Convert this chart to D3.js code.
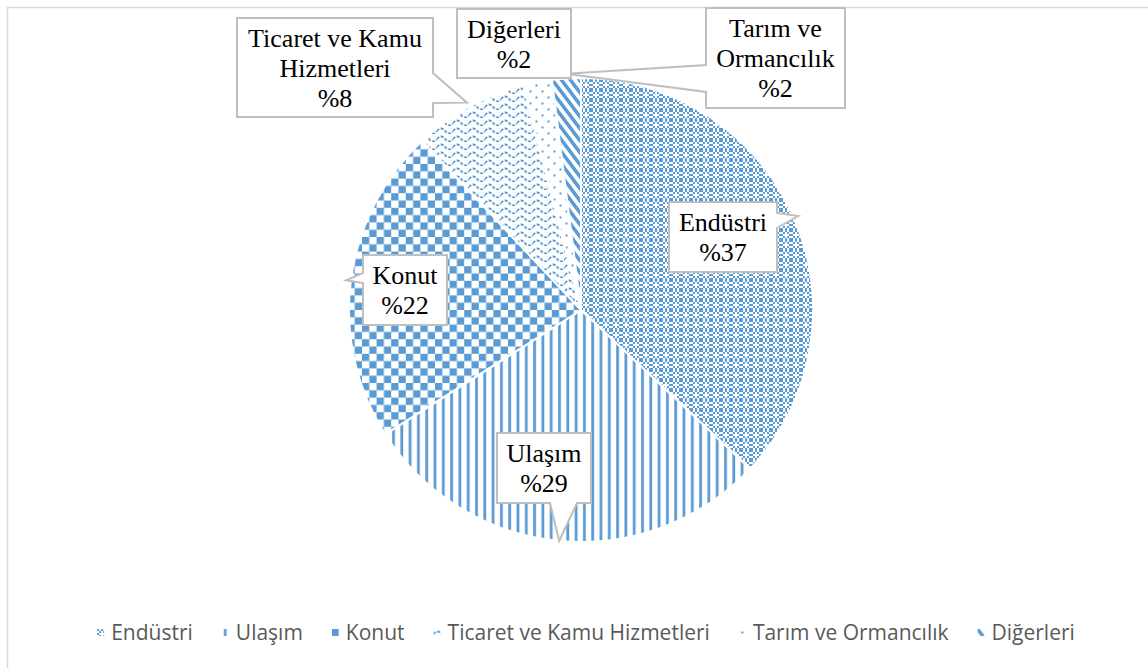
<!DOCTYPE html>
<html>
<head>
<meta charset="utf-8">
<script src="https://cdn.jsdelivr.net/npm/d3@7"></script>
<style>
  body { margin: 0; background: #fff; }
  .callout text { font-family: "Liberation Serif", "Times New Roman", serif; font-size: 26px; fill: #000; }
  .legend text { font-family: "Open Sans", sans-serif; font-size: 21px; fill: #595959; }
</style>
</head>
<body>
<div id="chart"></div>
<script>
// chart data
var categories = ["Endüstri", "Ulaşım", "Konut", "Ticaret ve Kamu Hizmetleri", "Tarım ve Ormancılık", "Diğerleri"];
var shares = [37, 29, 22, 8, 2, 2];
var labelLines = [["Endüstri"], ["Ulaşım"], ["Konut"], ["Ticaret ve Kamu", "Hizmetleri"], ["Tarım ve", "Ormancılık"], ["Diğerleri"]];

var width = 1148, height = 668;
var blue = "#5b9bd5";

var svg = d3.select("#chart").append("svg")
  .attr("width", width)
  .attr("height", height);

// outer frame of the chart area
svg.append("rect")
  .attr("x", 7.5).attr("y", 7.5)
  .attr("width", width + 20).attr("height", height + 20)
  .attr("fill", "none")
  .attr("stroke", "#d9d9d9")
  .attr("stroke-width", 1.5);

// fill patterns (one per slice)
var defs = svg.append("defs");

var chk2 = defs.append("pattern").attr("id", "chk2")
  .attr("patternUnits", "userSpaceOnUse").attr("width", 4).attr("height", 4);
chk2.append("rect").attr("width", 4).attr("height", 4).attr("fill", "#fff");
chk2.append("rect").attr("width", 2).attr("height", 2).attr("fill", blue);
chk2.append("rect").attr("x", 2).attr("y", 2).attr("width", 2).attr("height", 2).attr("fill", blue);

var p0 = defs.append("pattern").attr("id", "pat0")
  .attr("patternUnits", "userSpaceOnUse").attr("width", 10).attr("height", 10);
p0.append("rect").attr("width", 10).attr("height", 10).attr("fill", "url(#chk2)");
p0.append("rect").attr("x", 3).attr("y", 4).attr("width", 4).attr("height", 2).attr("fill", "#fff");
p0.append("rect").attr("x", 4).attr("y", 3).attr("width", 2).attr("height", 4).attr("fill", "#fff");

var p1 = defs.append("pattern").attr("id", "pat1")
  .attr("patternUnits", "userSpaceOnUse").attr("width", 8.3).attr("height", 8);
p1.append("rect").attr("width", 8.3).attr("height", 8).attr("fill", "#fff");
p1.append("rect").attr("x", 2).attr("width", 2.8).attr("height", 8).attr("fill", blue);

var p2 = defs.append("pattern").attr("id", "pat2")
  .attr("patternUnits", "userSpaceOnUse").attr("width", 14.6).attr("height", 14.6);
p2.append("rect").attr("width", 14.6).attr("height", 14.6).attr("fill", "#fff");
p2.append("rect").attr("width", 7.3).attr("height", 7.3).attr("fill", blue);
p2.append("rect").attr("x", 7.3).attr("y", 7.3).attr("width", 7.3).attr("height", 7.3).attr("fill", blue);

var p3 = defs.append("pattern").attr("id", "pat3")
  .attr("patternUnits", "userSpaceOnUse").attr("width", 16).attr("height", 8);
p3.append("rect").attr("width", 16).attr("height", 8).attr("fill", "#fff");
p3.append("path").attr("d", "M0,5 Q4,0 8,5 T16,5")
  .attr("fill", "none").attr("stroke", blue).attr("stroke-width", 1.8)
  .attr("stroke-dasharray", "3,1.5");

var p4 = defs.append("pattern").attr("id", "pat4")
  .attr("patternUnits", "userSpaceOnUse").attr("width", 12).attr("height", 12);
p4.append("rect").attr("width", 12).attr("height", 12).attr("fill", "#fff");
p4.append("rect").attr("x", 2.5).attr("y", 2.5).attr("width", 2).attr("height", 2).attr("fill", blue);
p4.append("rect").attr("x", 8.5).attr("y", 8.5).attr("width", 2).attr("height", 2).attr("fill", blue);

var p5 = defs.append("pattern").attr("id", "pat5")
  .attr("patternUnits", "userSpaceOnUse").attr("width", 9).attr("height", 12);
p5.append("rect").attr("width", 9).attr("height", 12).attr("fill", "#fff");
p5.append("path").attr("d", "M-2.25,-3 L11.25,15 M-2.25,9 L2.25,15 M6.75,-3 L11.25,3")
  .attr("stroke", blue).attr("stroke-width", 3.5);

// pie
var cx = 581, cy = 310, radius = 232;

var pie = d3.pie().sort(null).value(d => d);
var arcs = pie(shares);
var arc = d3.arc().innerRadius(0).outerRadius(radius);

var pieGroup = svg.append("g")
  .attr("transform", `translate(${cx}, ${cy})`);

pieGroup.selectAll("path")
  .data(arcs)
  .enter()
  .append("path")
  .attr("d", arc)
  .attr("fill", (d, i) => `url(#pat${i})`)
  .attr("stroke", "#fff")
  .attr("stroke-width", 2);

// callout boxes: box layout, side where the tail leaves the box, and tip angle
var callouts = [
  { box: [669, 202, 108, 70], side: "right", base: [11, 26], tipAt: 0.5, tipR: 1.02 },
  { box: [497, 433, 94, 70], side: "bottom", base: [53, 80], tipAt: 0.5, tipR: 1.0 },
  { box: [363, 255, 84, 70], side: "left", base: [18, 28], tipAt: 0.5, tipR: 1.02 },
  { box: [237, 18, 196, 99], side: "right", base: [55, 85], tipAt: 0.5, tipR: 1.02 },
  { box: [706, 8, 139, 100], side: "left", base: [57, 84], tipAt: 1.5, tipR: 1.02 },
  { box: [457, 9, 114, 69], side: null }
];

function tipPoint(i, c) {
  var a = arcs[i];
  var ang = a.startAngle + (a.endAngle - a.startAngle) * c.tipAt;
  var r = radius * c.tipR;
  return [cx + r * Math.sin(ang), cy - r * Math.cos(ang)];
}

function calloutPath(i, c) {
  var x = c.box[0], y = c.box[1], w = c.box[2], h = c.box[3];
  if (!c.side) {
    return `M${x},${y}H${x + w}V${y + h}H${x}Z`;
  }
  var t = tipPoint(i, c);
  var b0 = c.base[0], b1 = c.base[1];
  if (c.side === "right") {
    return `M${x},${y}H${x + w}V${y + b0}L${t[0]},${t[1]}L${x + w},${y + b1}V${y + h}H${x}Z`;
  }
  if (c.side === "left") {
    return `M${x},${y}H${x + w}V${y + h}H${x}V${y + b1}L${t[0]},${t[1]}L${x},${y + b0}Z`;
  }
  // bottom
  return `M${x},${y}H${x + w}V${y + h}H${x + b1}L${t[0]},${t[1]}L${x + b0},${y + h}H${x}Z`;
}

var calloutGroup = svg.append("g").attr("class", "callout");

callouts.forEach(function(c, i) {
  var g = calloutGroup.append("g");
  g.append("path")
    .attr("d", calloutPath(i, c))
    .attr("fill", "#fff")
    .attr("stroke", "#bfbfbf")
    .attr("stroke-width", 2)
    .attr("stroke-linejoin", "miter");

  var lines = labelLines[i].concat(["%" + shares[i]]);
  var midX = c.box[0] + c.box[2] / 2;
  var midY = c.box[1] + c.box[3] / 2;
  var lh = 30;
  var first = midY - (lines.length - 1) * lh / 2 + 9;
  g.selectAll("text")
    .data(lines)
    .enter()
    .append("text")
    .attr("x", midX)
    .attr("y", (d, k) => first + k * lh)
    .attr("text-anchor", "middle")
    .text(d => d);
});

// legend
var legend = svg.append("g").attr("class", "legend");
var legendY = 633;
var items = legend.selectAll("g")
  .data(categories)
  .enter()
  .append("g");

// marker sits in its own group so the pattern tile starts at its corner
items.append("g")
  .attr("transform", `translate(0, ${legendY - 4})`)
  .append("rect")
  .attr("width", 7)
  .attr("height", 7)
  .attr("fill", (d, i) => `url(#pat${i})`);

items.append("text")
  .attr("x", 14)
  .attr("y", legendY + 7)
  .text(d => d);

var gap = 29, x = 0, offsets = [];
items.each(function() {
  var w = 14 + d3.select(this).select("text").node().getComputedTextLength();
  offsets.push(x);
  x += w + gap;
});
var totalW = x - gap;
var startX = 586 - totalW / 2;
items.attr("transform", (d, i) => `translate(${startX + offsets[i]}, 0)`);
</script>
</body>
</html>
